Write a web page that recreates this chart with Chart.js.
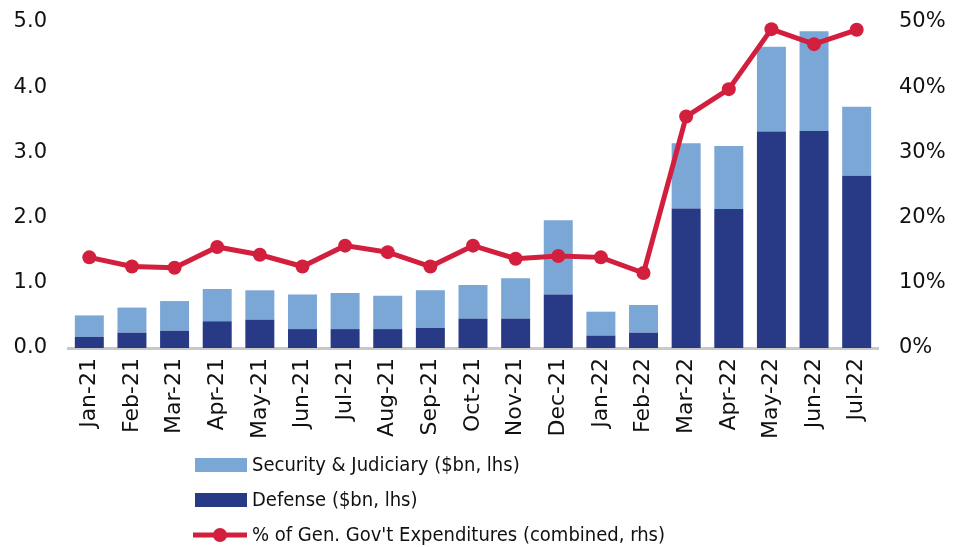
<!DOCTYPE html>
<html>
<head>
<meta charset="utf-8">
<script src="https://cdn.jsdelivr.net/npm/chart.js@4"></script>
<style>
  html, body { margin: 0; padding: 0; background: #fff; }
  #wrap { width: 954px; height: 547px; position: relative; }
</style>
</head>
<body>
<div id="wrap"><canvas id="chart"></canvas></div>
<script>
const months = ['Jan-21', 'Feb-21', 'Mar-21', 'Apr-21', 'May-21', 'Jun-21', 'Jul-21', 'Aug-21', 'Sep-21', 'Oct-21',
    'Nov-21', 'Dec-21', 'Jan-22', 'Feb-22', 'Mar-22', 'Apr-22', 'May-22', 'Jun-22', 'Jul-22'];
const defense = [0.17, 0.235, 0.265, 0.41, 0.435, 0.29, 0.29, 0.29, 0.31, 0.45,
    0.45, 0.82, 0.19, 0.235, 2.14, 2.13, 3.32, 3.33, 2.64];
const security = [0.33, 0.385, 0.455, 0.495, 0.45, 0.53, 0.555, 0.51, 0.575, 0.515,
    0.62, 1.14, 0.367, 0.425, 1.0, 0.97, 1.30, 1.53, 1.06];
const shareOfSpending = [13.9, 12.5, 12.3, 15.5, 14.3, 12.5, 15.7, 14.7, 12.5, 15.7,
    13.7, 14.1, 13.9, 11.5, 35.5, 39.7, 48.9, 46.6, 48.8];
const leftTicks = [0, 1, 2, 3, 4, 5];
const rightTicks = [0, 10, 20, 30, 40, 50];

const lightBlue = '#7ba7d7';
const navy = '#283a86';
const red = '#d31f3e';
const tickFont = { family: 'DejaVu Sans', size: 21 };

// legend drawn as a vertical list under the axis
const stackedLegend = {
    id: 'stackedLegend',
    afterDraw(chart) {
        const ctx = chart.ctx;
        const order = [2, 1, 0];
        ctx.save();
        ctx.font = '20px "DejaVu Sans Condensed", "DejaVu Sans"';
        ctx.textBaseline = 'middle';
        order.forEach(function (idx, i) {
            const ds = chart.data.datasets[idx];
            const y = 465 + i * 35;
            if (ds.type === 'line') {
                ctx.strokeStyle = ds.borderColor;
                ctx.lineWidth = 5;
                ctx.beginPath();
                ctx.moveTo(193, y);
                ctx.lineTo(247, y);
                ctx.stroke();
                ctx.fillStyle = ds.borderColor;
                ctx.beginPath();
                ctx.arc(220, y, 7, 0, Math.PI * 2);
                ctx.fill();
            } else {
                ctx.fillStyle = ds.backgroundColor;
                ctx.fillRect(195, y - 7, 52, 14);
            }
            ctx.fillStyle = '#111';
            ctx.fillText(ds.label, 252, y + 1);
        });
        ctx.restore();
    }
};

new Chart(document.getElementById('chart'), {
    data: {
        labels: months,
        datasets: [
            {
                type: 'line',
                label: "% of Gen. Gov't Expenditures (combined, rhs)",
                data: shareOfSpending,
                yAxisID: 'y2',
                borderColor: red,
                backgroundColor: red,
                borderWidth: 5,
                pointRadius: 7,
                pointBackgroundColor: red,
                pointBorderWidth: 0,
                tension: 0,
                order: 0
            },
            {
                type: 'bar',
                label: 'Defense ($bn, lhs)',
                data: defense,
                backgroundColor: navy,
                yAxisID: 'y',
                stack: 's',
                order: 1
            },
            {
                type: 'bar',
                label: 'Security & Judiciary ($bn, lhs)',
                data: security,
                backgroundColor: lightBlue,
                yAxisID: 'y',
                stack: 's',
                order: 2
            }
        ]
    },
    options: {
        responsive: true,
        maintainAspectRatio: false,
        animation: false,
        layout: { padding: { top: 22, left: 0, right: 0, bottom: 0 } },
        datasets: {
            bar: { categoryPercentage: 1, barPercentage: 0.68 }
        },
        scales: {
            x: {
                stacked: true,
                grid: { display: false, drawTicks: false },
                border: { display: true, color: '#c8c8c8', width: 3 },
                ticks: { color: '#111', font: { family: 'DejaVu Sans', size: 22 }, minRotation: 90, maxRotation: 90, padding: 10, autoSkip: false },
                afterFit: function (scale) { scale.height = 199; }
            },
            y: {
                position: 'left',
                stacked: true,
                min: 0,
                max: 5,
                afterBuildTicks: function (scale) { scale.ticks = leftTicks.map(v => ({ value: v })); },
                grid: { display: false, drawTicks: true, tickLength: 21 },
                border: { display: false },
                ticks: { color: '#111', font: tickFont, padding: 0, callback: v => v.toFixed(1) },
                afterFit: function (scale) { scale.width = 68; }
            },
            y2: {
                position: 'right',
                min: 0,
                max: 50,
                afterBuildTicks: function (scale) { scale.ticks = rightTicks.map(v => ({ value: v })); },
                grid: { display: false, drawTicks: true, tickLength: 21 },
                border: { display: false },
                ticks: { color: '#111', font: tickFont, padding: 0, callback: v => v + '%' },
                afterFit: function (scale) { scale.width = 76; }
            }
        },
        plugins: {
            legend: { display: false },
            tooltip: { enabled: false }
        }
    },
    plugins: [stackedLegend]
});
</script>
</body>
</html>
